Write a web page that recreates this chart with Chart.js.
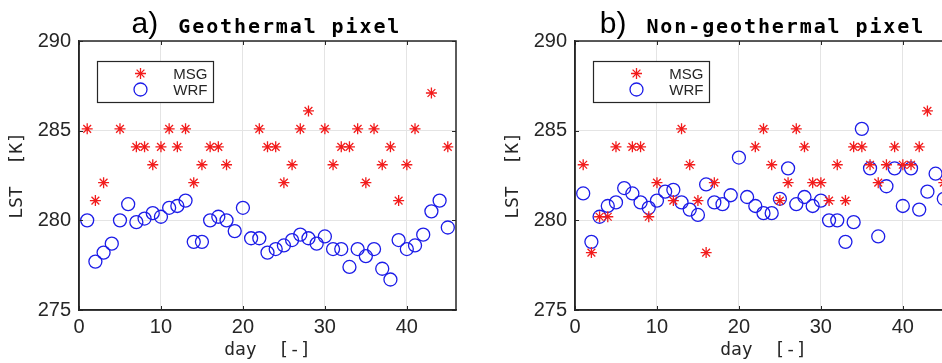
<!DOCTYPE html>
<html><head><meta charset="utf-8">
<script src="https://cdn.jsdelivr.net/npm/chart.js@4.4.0/dist/chart.umd.min.js"></script>
<style>
html,body{margin:0;padding:0;background:#fff;overflow:hidden;}
#wrap{position:relative;width:942px;height:363px;overflow:hidden;background:#fff;}
canvas{position:absolute;top:0;}
</style></head><body>
<div id="wrap">
<canvas id="ca" width="470" height="363" style="left:0;width:470px;height:363px"></canvas>
<canvas id="cb" width="470" height="363" style="left:496px;width:470px;height:363px"></canvas>
</div>
<script>
// ---- data ----
const xTicks = [0, 10, 20, 30, 40];
const yTicks = [275, 280, 285, 290];
const seriesNames = ['MSG', 'WRF'];
const titlesLetter = ['a)', 'b)'];
const titlesText = ['Geothermal pixel', 'Non-geothermal pixel'];
const xLabel = 'day  [-]';
const yLabel = 'LST  [K]';

const msgDaysA = [1,2,3,5,7,8,9,10,11,12,13,14,15,16,17,18,22,23,24,25,26,27,28,30,31,32,33,34,35,36,37,38,39,40,41,43,45];
const msgValsA = [285.1,281.1,282.1,285.1,284.1,284.1,283.1,284.1,285.1,284.1,285.1,282.1,283.1,284.1,284.1,283.1,285.1,284.1,284.1,282.1,283.1,285.1,286.1,285.1,283.1,284.1,284.1,285.1,282.1,285.1,283.1,284.1,281.1,283.1,285.1,287.1,284.1];
const wrfDaysA = [1,2,3,4,5,6,7,8,9,10,11,12,13,14,15,16,17,18,19,20,21,22,23,24,25,26,27,28,29,30,31,32,33,34,35,36,37,38,39,40,41,42,43,44,45];
const wrfValsA = [280.0,277.7,278.2,278.7,280.0,280.9,279.9,280.1,280.4,280.2,280.7,280.8,281.1,278.8,278.8,280.0,280.2,280.0,279.4,280.7,279.0,279.0,278.2,278.4,278.6,278.9,279.2,279.0,278.7,279.1,278.4,278.4,277.4,278.4,278.0,278.4,277.3,276.7,278.9,278.4,278.6,279.2,280.5,281.1,279.6];

const msgDaysB = [1,2,3,4,5,7,8,9,10,12,13,14,15,16,17,22,23,24,25,26,27,28,29,30,31,32,33,34,35,36,37,38,39,40,41,42,43,45];
const msgValsB = [283.1,278.2,280.2,280.2,284.1,284.1,284.1,280.2,282.1,281.1,285.1,283.1,281.1,278.2,282.1,284.1,285.1,283.1,281.1,282.1,285.1,284.1,282.1,282.1,281.1,283.1,281.1,284.1,284.1,283.1,282.1,283.1,284.1,283.1,283.1,284.1,286.1,282.1];
const wrfDaysB = [1,2,3,4,5,6,7,8,9,10,11,12,13,14,15,16,17,18,19,20,21,22,23,24,25,26,27,28,29,30,31,32,33,34,35,36,37,38,39,40,41,42,43,44,45];
const wrfValsB = [281.5,278.8,280.2,280.8,281.0,281.8,281.5,281.0,280.7,281.1,281.6,281.7,281.0,280.6,280.3,282.0,281.0,280.9,281.4,283.5,281.3,280.8,280.4,280.4,281.2,282.9,280.9,281.3,280.8,281.1,280.0,280.0,278.8,279.9,285.1,282.9,279.1,281.9,282.9,280.8,282.9,280.6,281.6,282.6,281.2];

// ---- style ----
const RED = '#f21c1c';
const BLUE = '#1c1ce8';
const AXIS = '#262626';
const GRID = '#e4e4e4';

function pts(days, vals){ return days.map((d,i)=>({x:d, y:vals[i]})); }

const framePlugin = {
  id: 'frame',
  afterDatasetsDraw(chart, args, opts){
    const {ctx, chartArea:a, scales} = chart;
    ctx.save();
    // inward ticks
    ctx.strokeStyle = AXIS; ctx.lineWidth = 1;
    const tl = 4;
    ctx.beginPath();
    xTicks.forEach(v=>{
      const x = Math.round(scales.x.getPixelForValue(v))+0.5;
      ctx.moveTo(x, a.bottom); ctx.lineTo(x, a.bottom - tl);
      ctx.moveTo(x, a.top); ctx.lineTo(x, a.top + tl);
    });
    yTicks.forEach(v=>{
      const y = Math.round(scales.y.getPixelForValue(v))+0.5;
      ctx.moveTo(a.left, y); ctx.lineTo(a.left + tl, y);
      ctx.moveTo(a.right, y); ctx.lineTo(a.right - tl, y);
    });
    ctx.stroke();
    // box
    ctx.lineWidth = 1.5;
    ctx.strokeRect(a.left, a.top, a.right - a.left, a.bottom - a.top);
    // legend
    const lx = a.left + 18.5, ly = a.top + 20.5, lw = 116, lh = 41;
    ctx.fillStyle = '#fff';
    ctx.fillRect(lx, ly, lw, lh);
    ctx.lineWidth = 1.2; ctx.strokeStyle = AXIS;
    ctx.strokeRect(lx, ly, lw, lh);
    const ds = chart.data.datasets;
    const rows = [ly + 12, ly + 28];
    ds.forEach((d,i)=>{
      ctx.fillStyle = d.backgroundColor;
      ctx.strokeStyle = d.borderColor; ctx.lineWidth = d.borderWidth;
      Chart.helpers.drawPoint(ctx, {pointStyle: d.pointStyle, radius: d.pointRadius, borderWidth: d.borderWidth, rotation:0}, lx + 43, rows[i]);
      ctx.fillStyle = AXIS;
      ctx.font = '15px "Liberation Sans", Arial, sans-serif';
      ctx.textAlign = 'right'; ctx.textBaseline = 'middle';
      ctx.fillText(d.label, lx + lw - 6, rows[i] + 1);
    });
    // title
    const cx = (a.left + a.right) / 2;
    ctx.fillStyle = '#000';
    ctx.textBaseline = 'alphabetic'; ctx.textAlign = 'left';
    ctx.font = '30px "Liberation Sans", Arial, sans-serif';
    const wA = ctx.measureText(opts.letter).width;
    ctx.font = 'bold 20px "DejaVu Sans Mono", monospace';
    const ls = 1.9;
    const wT = ctx.measureText(opts.text).width + ls * (opts.text.length - 1);
    const gap = 20;
    const x0 = cx - (wA + gap + wT) / 2 - 2;
    ctx.font = '30px "Liberation Sans", Arial, sans-serif';
    ctx.fillText(opts.letter, x0, 33);
    ctx.font = 'bold 20px "DejaVu Sans Mono", monospace';
    if ('letterSpacing' in ctx) {
      ctx.letterSpacing = ls + 'px';
      ctx.fillText(opts.text, x0 + wA + gap, 33);
      ctx.letterSpacing = '0px';
    } else {
      ctx.fillText(opts.text, x0 + wA + gap, 33);
    }
    ctx.restore();
  }
};

function makeChart(id, idx, msgDays, msgVals, wrfDays, wrfVals){
  return new Chart(document.getElementById(id), {
    type: 'scatter',
    data: {
      datasets: [
        {label: seriesNames[0], data: pts(msgDays, msgVals), pointStyle: 'star', pointRadius: 5.5, pointHoverRadius: 5.5,
         borderColor: RED, backgroundColor: RED, borderWidth: 1.3},
        {label: seriesNames[1], data: pts(wrfDays, wrfVals), pointStyle: 'circle', pointRadius: 6.5, pointHoverRadius: 6.5,
         borderColor: BLUE, backgroundColor: 'rgba(0,0,0,0)', borderWidth: 1.3}
      ]
    },
    options: {
      responsive: false, animation: false, devicePixelRatio: 1,
      events: [],
      layout: {padding: {top: 41, right: 14, left: 0, bottom: 0}},
      plugins: {legend: {display: false}, tooltip: {enabled: false},
        frame: {letter: titlesLetter[idx], text: titlesText[idx]}},
      scales: {
        x: {type: 'linear', min: 0, max: 46,
          afterFit(s){ s.height = 53; },
          afterBuildTicks(s){ s.ticks = xTicks.map(v=>({value:v})); },
          grid: {color: GRID, lineWidth: 1, drawTicks: false},
          border: {display: true, color: AXIS, width: 1.5},
          ticks: {padding: 5, color: AXIS, font: {family: '"Liberation Sans", Arial, sans-serif', size: 20}, maxRotation: 0},
          title: {display: true, text: xLabel, color: AXIS, padding: {top: 0, bottom: 2},
            font: {family: '"DejaVu Sans Mono", monospace', size: 18}}
        },
        y: {type: 'linear', min: 275, max: 290,
          afterFit(s){ s.width = 79; },
          afterBuildTicks(s){ s.ticks = yTicks.map(v=>({value:v})); },
          grid: {color: GRID, lineWidth: 1, drawTicks: false},
          border: {display: true, color: AXIS, width: 1.5},
          ticks: {padding: 8, color: AXIS, font: {family: '"Liberation Sans", Arial, sans-serif', size: 20}},
          title: {display: true, text: yLabel, color: AXIS, padding: {top: 7, bottom: 0},
            font: {family: '"DejaVu Sans Mono", monospace', size: 18}}
        }
      }
    },
    plugins: [framePlugin]
  });
}

makeChart('ca', 0, msgDaysA, msgValsA, wrfDaysA, wrfValsA);
makeChart('cb', 1, msgDaysB, msgValsB, wrfDaysB, wrfValsB);
</script>
</body></html>
